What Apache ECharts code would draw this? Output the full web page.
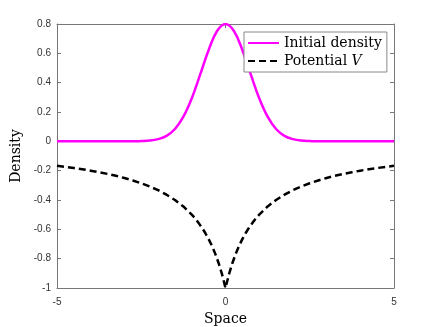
<!DOCTYPE html>
<html>
<head>
<meta charset="utf-8">
<script src="https://cdn.jsdelivr.net/npm/echarts@6/dist/echarts.min.js"></script>
<style>
  html, body { margin: 0; padding: 0; background: #fff; }
  #chart { width: 436px; height: 327px; }
</style>
</head>
<body>
<div id="chart"></div>
<script>
// values
const densityX = [-5, -4.5, -4, -3.5, -3, -2.75, -2.5, -2.25, -2, -1.75, -1.5, -1.25, -1, -0.75, -0.5, -0.25,
  0, 0.25, 0.5, 0.75, 1, 1.25, 1.5, 1.75, 2, 2.25, 2.5, 2.75, 3, 3.5, 4, 4.5, 5]
const densityY = [0, 0, 0, 0, 0, 0, 0.002, 0.005, 0.015, 0.037, 0.084, 0.168, 0.294, 0.456, 0.623, 0.752,
  0.8, 0.752, 0.623, 0.456, 0.294, 0.168, 0.084, 0.037, 0.015, 0.005, 0.002, 0, 0, 0, 0, 0, 0]

const potentialX = [-5, -4.75, -4.5, -4.25, -4, -3.75, -3.5, -3.25, -3, -2.75, -2.5, -2.25, -2, -1.75, -1.5, -1.25,
  -1, -0.9, -0.8, -0.7, -0.6, -0.5, -0.4, -0.3, -0.2, -0.1, 0,
  0.1, 0.2, 0.3, 0.4, 0.5, 0.6, 0.7, 0.8, 0.9, 1,
  1.25, 1.5, 1.75, 2, 2.25, 2.5, 2.75, 3, 3.25, 3.5, 3.75, 4, 4.25, 4.5, 4.75, 5]
const potentialY = [-0.167, -0.174, -0.182, -0.19, -0.2, -0.211, -0.222, -0.235, -0.25, -0.267, -0.286, -0.308, -0.333, -0.364, -0.4, -0.444,
  -0.5, -0.526, -0.556, -0.588, -0.625, -0.667, -0.714, -0.769, -0.833, -0.909, -1,
  -0.909, -0.833, -0.769, -0.714, -0.667, -0.625, -0.588, -0.556, -0.526, -0.5,
  -0.444, -0.4, -0.364, -0.333, -0.308, -0.286, -0.267, -0.25, -0.235, -0.222, -0.211, -0.2, -0.19, -0.182, -0.174, -0.167]

const chart = echarts.init(document.getElementById('chart'))

const axisColor = '#777'
const labelColor = '#333'
const serif = '"DejaVu Serif", "Liberation Serif", serif'

const fmt = (v) => {
  const s = (+v.toFixed(1)).toString()
  return s === '-0' ? '0' : s
}

const zip = (xs, ys) => xs.map((x, i) => [x, ys[i]])

const boxAxis = {
  axisLine: { show: true, onZero: false, lineStyle: { color: axisColor, width: 1 } },
  axisTick: { show: true, inside: true, length: 4, lineStyle: { color: axisColor } },
  splitLine: { show: false }
}

const option = {
  animation: false,
  backgroundColor: '#fff',
  grid: { left: 57, right: 42, top: 24, bottom: 39, containLabel: false, outerBoundsMode: 'none' },
  legend: {
    orient: 'vertical',
    left: 244,
    top: 32,
    padding: [4, 5, 4, 3],
    itemGap: 4,
    itemWidth: 31,
    itemHeight: 15,
    backgroundColor: '#fff',
    borderColor: '#888',
    borderWidth: 1,
    borderRadius: 0,
    itemStyle: { opacity: 0 },
    textStyle: {
      fontFamily: serif,
      fontSize: 14,
      color: '#000',
      rich: {
        i: { fontFamily: serif, fontSize: 14, fontStyle: 'italic', color: '#000' }
      }
    },
    formatter: (name) => name === 'Potential V' ? 'Potential {i|V}' : name,
    data: ['Initial density', 'Potential V']
  },
  xAxis: [
    {
      ...boxAxis,
      type: 'value',
      min: -5,
      max: 5,
      interval: 5,
      name: 'Space',
      nameLocation: 'middle',
      nameGap: 22,
      nameTextStyle: { fontFamily: serif, fontSize: 14, color: '#000' },
      axisLabel: { color: labelColor, fontSize: 10, margin: 9, formatter: fmt }
    },
    {
      ...boxAxis,
      type: 'value',
      position: 'top',
      min: -5,
      max: 5,
      interval: 5,
      axisLabel: { show: false }
    }
  ],
  yAxis: [
    {
      ...boxAxis,
      type: 'value',
      min: -1,
      max: 0.8,
      interval: 0.2,
      name: 'Density',
      nameLocation: 'middle',
      nameGap: 23,
      nameTextStyle: { fontFamily: serif, fontSize: 14, color: '#000' },
      axisLabel: { color: labelColor, fontSize: 10, margin: 6, formatter: fmt }
    },
    {
      ...boxAxis,
      type: 'value',
      position: 'right',
      min: -1,
      max: 0.8,
      interval: 0.2,
      axisLabel: { show: false }
    }
  ],
  series: [
    {
      name: 'Initial density',
      type: 'line',
      symbol: 'none',
      smooth: 0.4,
      data: zip(densityX, densityY),
      lineStyle: { color: '#ff00ff', width: 2.5 },
      itemStyle: { color: '#ff00ff' }
    },
    {
      name: 'Potential V',
      type: 'line',
      symbol: 'none',
      smooth: false,
      data: zip(potentialX, potentialY),
      lineStyle: { color: '#000', width: 2.5, type: [7, 4] },
      itemStyle: { color: '#000' }
    }
  ]
}

chart.setOption(option)
</script>
</body>
</html>
